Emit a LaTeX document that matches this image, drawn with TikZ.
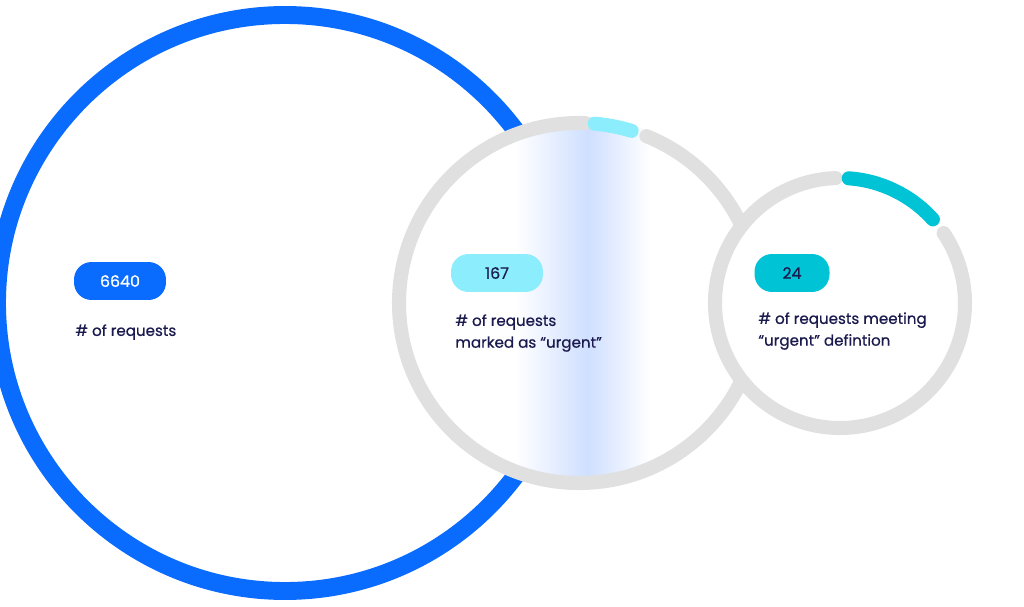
\documentclass[tikz,border=0pt]{standalone}
\usepackage{fontspec}
\setmainfont[FakeBold=0.6]{Poppins}
\usetikzlibrary{positioning}
\definecolor{bigblue}{HTML}{0A6CFF}
\definecolor{ringgray}{HTML}{E0E0E0}
\definecolor{lightcyan}{HTML}{8CEEFC}
\definecolor{deepcyan}{HTML}{00C3D6}
\definecolor{navy}{HTML}{1A1A4E}
\definecolor{bandblue}{HTML}{CFDFFF}
\tikzset{
  pill/.style={rounded corners=10pt,minimum width=1.84cm,minimum height=0.76cm,inner sep=0pt,font=\fontsize{9}{11}\selectfont},
  lbl/.style={anchor=north west,align=left,text=navy,inner sep=0pt,font=\fontsize{8.6}{12.4}\selectfont}
}
\begin{document}
\begin{tikzpicture}[x=0.02cm,y=0.02cm]
\useasboundingbox (0,0) rectangle (1024,606);
% big circle
\draw[bigblue,line width=10.2pt] (285,303) circle[radius=288];
% middle circle
\fill[white] (579,303) circle[radius=186];
\begin{scope}
\clip (579,303) circle[radius=186];
\shade[left color=white,right color=bandblue] (515,0) rectangle (588,606);
\shade[left color=bandblue,right color=white] (588,0) rectangle (650,606);
\end{scope}
\draw[ringgray,line width=8pt,line cap=round] (579,303) ++(88:180) arc[start angle=88,end angle=428,radius=180];
\draw[lightcyan,line width=8pt,line cap=round] (579,303) ++(73:180) arc[start angle=73,end angle=85,radius=180];
% right circle
\fill[white] (840,303) circle[radius=131];
\draw[ringgray,line width=8pt,line cap=round] (840,303) ++(92:125) arc[start angle=92,end angle=394,radius=125];
\draw[deepcyan,line width=8pt,line cap=round] (840,303) ++(42:125) arc[start angle=42,end angle=86,radius=125];
% labels
\node[pill,fill=bigblue,text=white] (total) at (120,325) {6640};
\node[lbl] (totaltxt) at (75,282) {\# of requests};
\node[pill,fill=lightcyan,text=navy] (marked) at (497,333) {167};
\node[lbl] (markedtxt) at (455,292) {\# of requests\\marked as “urgent”};
\node[pill,fill=deepcyan,text=navy,minimum width=1.5cm] (meet) at (792,333) {24};
\node[lbl] (meettxt) at (758,294) {\# of requests meeting\\“urgent” defintion};
\end{tikzpicture}
\end{document}
